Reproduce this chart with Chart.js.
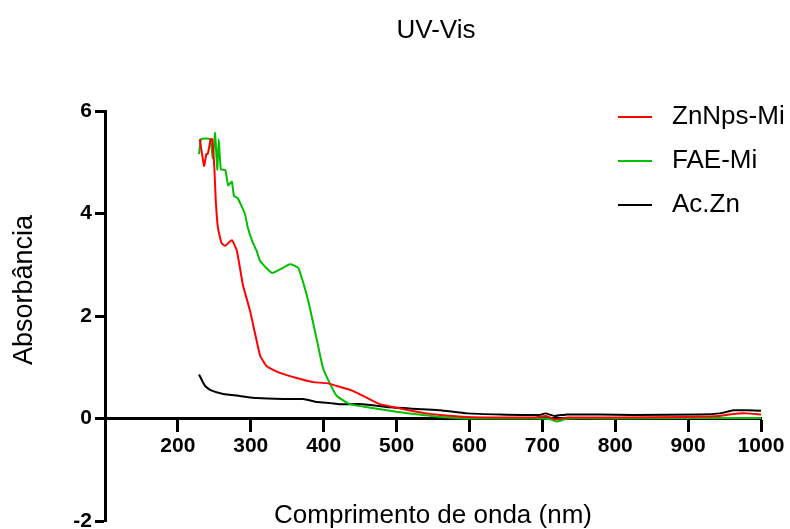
<!DOCTYPE html>
<html>
<head>
<meta charset="utf-8">
<script src="https://cdn.jsdelivr.net/npm/chart.js@4.4.1/dist/chart.umd.min.js"></script>
<style>
  html, body { margin: 0; padding: 0; background: #fff; }
  #wrap { width: 790px; height: 529px; }
</style>
</head>
<body>
<div id="wrap"><canvas id="uvChart" width="790" height="529"></canvas></div>
<script>
// ZnNps-Mi
const znWave = [230, 236, 239, 241, 245, 247, 250, 252, 255, 260, 265, 274, 281, 289, 299, 306, 313, 322, 340, 363, 385, 404, 422, 440, 454, 477, 500, 536, 560, 597, 640, 690, 705, 718, 735, 800, 900, 944, 962, 980, 1000];
const znAbs  = [5.45, 4.93, 5.16, 5.16, 5.45, 5.45, 4.89, 4.24, 3.72, 3.42, 3.37, 3.48, 3.27, 2.62, 2.10, 1.65, 1.22, 1.02, 0.89, 0.79, 0.71, 0.69, 0.62, 0.54, 0.44, 0.28, 0.21, 0.11, 0.07, 0.03, 0.02, 0.02, 0.05, -0.02, 0.02, 0.02, 0.03, 0.05, 0.09, 0.10, 0.08];
// FAE-Mi
const faeWave = [229, 232, 244, 248, 251, 254, 256, 259, 265, 269, 274, 277, 282, 292, 296, 302, 308, 313, 329, 340, 354, 365, 374, 381, 391, 399, 409, 418, 436, 464, 500, 536, 560, 600, 700, 712, 720, 735, 800, 900, 1000];
const faeAbs  = [5.16, 5.45, 5.45, 5.08, 5.57, 4.86, 5.45, 4.86, 4.85, 4.55, 4.62, 4.34, 4.30, 3.99, 3.72, 3.46, 3.27, 3.07, 2.84, 2.91, 3.01, 2.94, 2.55, 2.16, 1.51, 0.99, 0.67, 0.44, 0.28, 0.21, 0.13, 0.07, 0.03, 0.00, 0.00, -0.02, -0.06, 0.00, 0.00, 0.01, 0.01];
// Ac.Zn
const acWave = [229, 237, 244, 262, 285, 308, 344, 372, 391, 409, 422, 454, 491, 536, 560, 597, 642, 697, 704, 717, 734, 824, 916, 944, 962, 981, 1000];
const acAbs  = [0.86, 0.64, 0.56, 0.48, 0.44, 0.40, 0.38, 0.38, 0.32, 0.30, 0.28, 0.28, 0.22, 0.18, 0.16, 0.10, 0.08, 0.07, 0.10, 0.05, 0.08, 0.07, 0.08, 0.10, 0.16, 0.16, 0.15];

const seriesNames = ["ZnNps-Mi", "FAE-Mi", "Ac.Zn"];
const seriesColors = ["#ff0000", "#00c000", "#000000"];
const xTicks = [200, 300, 400, 500, 600, 700, 800, 900, 1000];
const yTicks = [-2, 0, 2, 4, 6];

const chartTitle = "UV-Vis";
const xTitle = "Comprimento de onda (nm)";
const yTitle = "Absorbância";

const FONT = "'Liberation Sans', Arial, sans-serif";

function toPoints(xs, ys) {
  return xs.map((x, i) => ({ x: x, y: ys[i] }));
}

// titulos y leyenda a mano (posicion como en el original)
const textPlugin = {
  id: "textPlugin",
  afterDraw(chart) {
    const ctx = chart.ctx;
    const area = chart.chartArea;
    const midX = (area.left + area.right) / 2;
    ctx.save();
    ctx.fillStyle = "#000";
    ctx.textAlign = "center";
    ctx.textBaseline = "middle";
    ctx.font = "26px " + FONT;
    ctx.fillText(chartTitle, midX + 3, 31);
    ctx.fillText(xTitle, midX, 516);

    ctx.save();
    ctx.font = "27px " + FONT;
    ctx.translate(25, 290);
    ctx.rotate(-Math.PI / 2);
    ctx.fillText(yTitle, 0, 0);
    ctx.restore();

    // leyenda
    ctx.textAlign = "left";
    chart.data.datasets.forEach((ds, i) => {
      const y = 117 + i * 44;
      ctx.strokeStyle = ds.borderColor;
      ctx.lineWidth = 2;
      ctx.beginPath();
      ctx.moveTo(618, y);
      ctx.lineTo(652, y);
      ctx.stroke();
      ctx.fillText(ds.label, 672, y);
    });
    ctx.restore();
  }
};

const ctx = document.getElementById("uvChart");

new Chart(ctx, {
  type: "line",
  data: {
    datasets: [
      { label: seriesNames[0], data: toPoints(znWave, znAbs), borderColor: seriesColors[0] },
      { label: seriesNames[1], data: toPoints(faeWave, faeAbs), borderColor: seriesColors[1] },
      { label: seriesNames[2], data: toPoints(acWave, acAbs), borderColor: seriesColors[2] }
    ]
  },
  options: {
    responsive: false,
    animation: false,
    layout: { padding: { left: 0, right: 29, top: 111, bottom: 8 } },
    elements: {
      point: { radius: 0 },
      line: { borderWidth: 2, tension: 0.15, fill: false }
    },
    plugins: {
      legend: { display: false },
      title: { display: false },
      tooltip: { enabled: false }
    },
    scales: {
      x: {
        type: "linear",
        min: 100,
        max: 1000,
        position: { y: 0 },
        afterFit: s => { s.height = 0; s.paddingLeft = 0; s.paddingRight = 0; },
        afterBuildTicks: s => { s.ticks = xTicks.map(v => ({ value: v })); },
        border: { display: true, color: "#000", width: 3 },
        grid: { drawOnChartArea: false, color: "#000", tickLength: 12, tickWidth: 3 },
        ticks: {
          color: "#000", padding: 3, maxRotation: 0,
          font: { family: FONT, size: 21, weight: "bold" },
          callback: v => String(v)
        }
      },
      y: {
        min: -2,
        max: 6,
        afterFit: s => { s.width = 105; s.paddingTop = 0; s.paddingBottom = 0; },
        afterBuildTicks: s => { s.ticks = yTicks.map(v => ({ value: v })); },
        border: { display: true, color: "#000", width: 3 },
        grid: { drawOnChartArea: false, color: "#000", tickLength: 10, tickWidth: 3 },
        ticks: { color: "#000", padding: 3, font: { family: FONT, size: 21, weight: "bold" } }
      }
    }
  },
  plugins: [textPlugin]
});
</script>
</body>
</html>
